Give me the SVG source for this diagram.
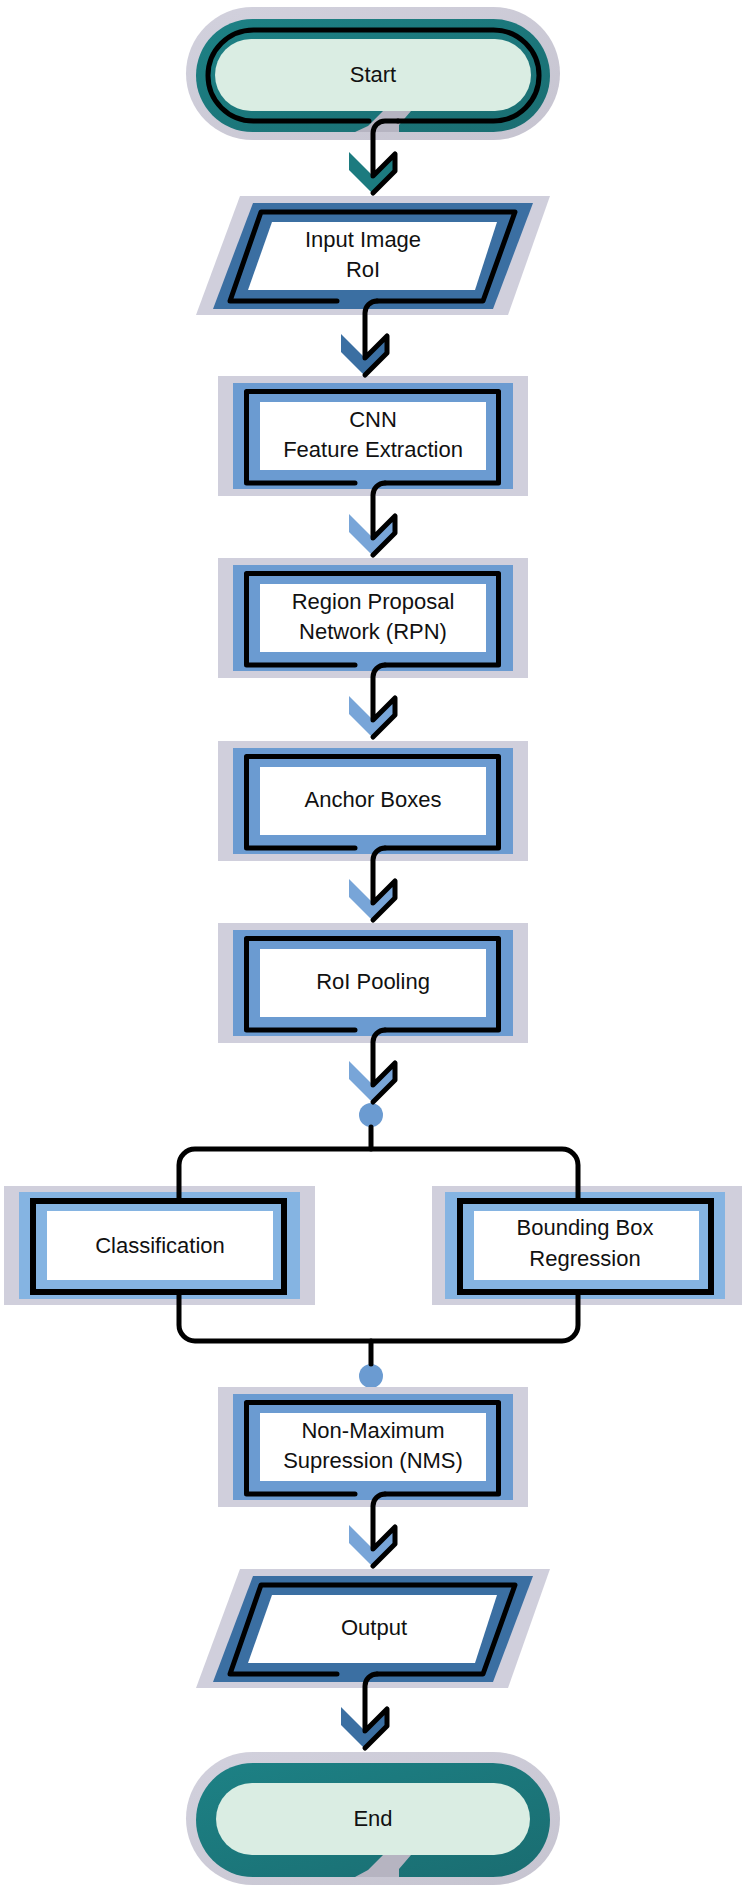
<svg xmlns="http://www.w3.org/2000/svg" width="747" height="1893" viewBox="0 0 747 1893">
<defs>
<linearGradient id="teal" x1="0" y1="0" x2="1" y2="1">
<stop offset="0" stop-color="#1d8185"/>
<stop offset="1" stop-color="#1a6d71"/>
</linearGradient>
<linearGradient id="halo" x1="0" y1="0" x2="1" y2="1">
<stop offset="0" stop-color="#d2d1dd"/>
<stop offset="1" stop-color="#c6c4d0"/>
</linearGradient>
<style>
.halo{fill:#d0cfdc}
.th{fill:url(#halo)}
.tb{fill:url(#teal)}
.tl{fill:#daede3}
.slot{fill:#b6b4c1}
.pb{fill:#3b6fa2}
.rb{fill:#6b9bd1}
.lb{fill:#85b4e2}
.w{fill:#ffffff}
.ln{fill:none;stroke:#000;stroke-width:5;stroke-linecap:round;stroke-linejoin:round}
.bx{fill:none;stroke:#000;stroke-width:6}
.t{font-family:"Liberation Sans",Arial,sans-serif;font-size:22px;fill:#111;text-anchor:middle}
.ct{fill:#1c7b7f}
.cp{fill:#3b6fa2}
.cr{fill:#78a5d8}
.dot{fill:#6b9bd1}
</style>
</defs>

<g id="start">
<rect class="th" x="186" y="7" width="374" height="133" rx="66.5"/>
<rect class="tb" x="196" y="19" width="354" height="113" rx="56.5"/>
<rect class="tl" x="215" y="39" width="316" height="72" rx="36"/>
<polygon class="slot" points="383,111 411,111 399,125 399,132 355,132 368,126"/>
<path class="ln" d="M369,121 H253.5 A45.5,45.5 0 0 1 253.5,30 H493.5 A45.5,45.5 0 0 1 493.5,121 H398"/>
<text class="t" x="373" y="82">Start</text>
</g>

<g id="input">
<polygon class="halo" points="240,196 550,196 508,315 196,315"/>
<polygon class="pb" points="253,203 533,203 493,309 213,309"/>
<polygon class="w" points="272,222 497,222 475,290 248,290"/>
<path class="ln" d="M337,301 H230 L261,212 H515 L483,301 H377"/>
<text class="t" x="363" y="247">Input Image</text>
<text class="t" x="363" y="277">RoI</text>
</g>

<g id="cnn">
<rect class="halo" x="218" y="376" width="310" height="120"/>
<rect class="rb" x="233" y="383" width="280" height="106"/>
<rect class="w" x="260" y="402" width="226" height="68"/>
<path class="ln" d="M355,483 H246.5 V391.5 H498.5 V483 H385"/>
<text class="t" x="373" y="427">CNN</text>
<text class="t" x="373" y="457">Feature Extraction</text>
</g>

<g id="rpn">
<rect class="halo" x="218" y="558" width="310" height="120"/>
<rect class="rb" x="233" y="565" width="280" height="106"/>
<rect class="w" x="260" y="584" width="226" height="68"/>
<path class="ln" d="M355,665 H246.5 V573.5 H498.5 V665 H385"/>
<text class="t" x="373" y="609">Region Proposal</text>
<text class="t" x="373" y="639">Network (RPN)</text>
</g>

<g id="anchor">
<rect class="halo" x="218" y="741" width="310" height="120"/>
<rect class="rb" x="233" y="748" width="280" height="106"/>
<rect class="w" x="260" y="767" width="226" height="68"/>
<path class="ln" d="M355,848 H246.5 V756.5 H498.5 V848 H385"/>
<text class="t" x="373" y="807">Anchor Boxes</text>
</g>

<g id="roipool">
<rect class="halo" x="218" y="923" width="310" height="120"/>
<rect class="rb" x="233" y="930" width="280" height="106"/>
<rect class="w" x="260" y="949" width="226" height="68"/>
<path class="ln" d="M355,1030 H246.5 V938.5 H498.5 V1030 H385"/>
<text class="t" x="373" y="989">RoI Pooling</text>
</g>

<g id="split">
<circle class="dot" cx="371" cy="1115" r="12"/>
</g>

<g id="classification">
<rect class="halo" x="4" y="1186" width="311" height="119"/>
<rect class="lb" x="19" y="1192" width="281" height="107"/>
<rect class="w" x="47" y="1211" width="226" height="69"/>
<rect class="bx" x="33" y="1201" width="251" height="91"/>
<text class="t" x="160" y="1253">Classification</text>
</g>

<g id="bbox">
<rect class="halo" x="432" y="1186" width="310" height="119"/>
<rect class="lb" x="445" y="1192" width="280" height="107"/>
<rect class="w" x="474" y="1211" width="225" height="69"/>
<rect class="bx" x="460" y="1201" width="251" height="91"/>
<text class="t" x="585" y="1235">Bounding Box</text>
<text class="t" x="585" y="1266">Regression</text>
</g>

<g id="merge">
<circle class="dot" cx="371" cy="1376" r="12"/>
</g>

<g id="nms">
<rect class="halo" x="218" y="1387" width="310" height="120"/>
<rect class="rb" x="233" y="1394" width="280" height="106"/>
<rect class="w" x="260" y="1413" width="226" height="68"/>
<path class="ln" d="M355,1494 H246.5 V1402.5 H498.5 V1494 H385"/>
<text class="t" x="373" y="1438">Non-Maximum</text>
<text class="t" x="373" y="1468">Supression (NMS)</text>
</g>

<g id="output">
<polygon class="halo" points="240,1569 550,1569 508,1688 196,1688"/>
<polygon class="pb" points="253,1576 533,1576 493,1682 213,1682"/>
<polygon class="w" points="272,1595 497,1595 475,1663 248,1663"/>
<path class="ln" d="M337,1674 H230 L261,1585 H515 L483,1674 H377"/>
<text class="t" x="374" y="1635">Output</text>
</g>

<g id="end">
<rect class="th" x="186" y="1752" width="374" height="133" rx="66.5"/>
<rect class="tb" x="196" y="1763" width="354" height="114" rx="57"/>
<rect class="tl" x="216" y="1783" width="314" height="72" rx="36"/>
<polygon class="slot" points="383,1855 411,1855 399,1869 399,1877 355,1877 368,1870"/>
<text class="t" x="373" y="1826">End</text>
</g>

<g id="connectors">
<polygon class="ct" points="349,152 373,176 397,152 397,170 373,194 349,170"/>
<path class="ln" d="M398,121 H385 A12,12 0 0 0 373,133 V176 L395,154 V171 L373,193"/>

<polygon class="cp" points="341,334 365,358 389,334 389,352 365,376 341,352"/>
<path class="ln" d="M377,301 A12,12 0 0 0 365,313 V358 L387,336 V353 L365,375"/>

<polygon class="cr" points="349,514 373,538 397,514 397,532 373,556 349,532"/>
<path class="ln" d="M385,483 A12,12 0 0 0 373,495 V538 L395,516 V533 L373,555"/>

<polygon class="cr" points="349,696 373,720 397,696 397,714 373,738 349,714"/>
<path class="ln" d="M385,665 A12,12 0 0 0 373,677 V720 L395,698 V715 L373,737"/>

<polygon class="cr" points="349,879 373,903 397,879 397,897 373,921 349,897"/>
<path class="ln" d="M385,848 A12,12 0 0 0 373,860 V903 L395,881 V898 L373,920"/>

<polygon class="cr" points="349,1061 373,1085 397,1061 397,1079 373,1103 349,1079"/>
<path class="ln" d="M385,1030 A12,12 0 0 0 373,1042 V1085 L395,1063 V1080 L373,1102"/>

<path class="ln" d="M371,1127 V1149"/>
<path class="ln" d="M179,1199 V1165 A16,16 0 0 1 195,1149 H562 A16,16 0 0 1 578,1165 V1199"/>
<path class="ln" d="M179,1294 V1325 A16,16 0 0 0 195,1341 H562 A16,16 0 0 0 578,1325 V1294"/>
<path class="ln" d="M371,1341 V1364"/>

<polygon class="cr" points="349,1525 373,1549 397,1525 397,1543 373,1567 349,1543"/>
<path class="ln" d="M385,1494 A12,12 0 0 0 373,1506 V1549 L395,1527 V1544 L373,1566"/>

<polygon class="cp" points="341,1707 365,1731 389,1707 389,1725 365,1749 341,1725"/>
<path class="ln" d="M377,1674 A12,12 0 0 0 365,1686 V1731 L387,1709 V1726 L365,1748"/>
</g>
</svg>
